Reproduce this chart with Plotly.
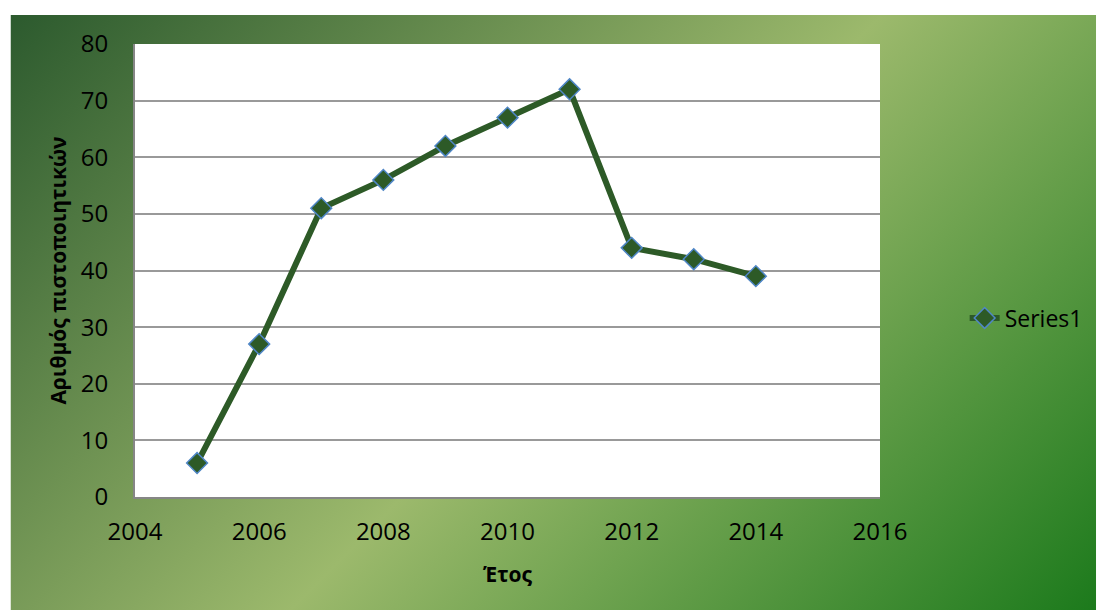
import base64
import plotly.graph_objects as go

# Data
years = [2005, 2006, 2007, 2008, 2009, 2010, 2011, 2012, 2013, 2014]
certificates = [6, 27, 51, 56, 62, 67, 72, 44, 42, 39]
series_name = "Series1"
x_title = "Έτος"
y_title = "Αριθμός πιστοποιητικών"
x_ticks = [2004, 2006, 2008, 2010, 2012, 2014, 2016]
y_ticks = [0, 10, 20, 30, 40, 50, 60, 70, 80]

FONT = "Open Sans, Lato, DejaVu Sans, sans-serif"

# Gradient background (diagonal, dark green -> light green -> green)
svg = (
    '<svg xmlns="http://www.w3.org/2000/svg" width="1090" height="595" viewBox="0 0 1090 595" preserveAspectRatio="none">'
    '<defs><linearGradient id="g" gradientUnits="userSpaceOnUse" x1="0" y1="0" x2="842" y2="842">'
    '<stop offset="0" stop-color="#2c5a2e"/>'
    '<stop offset="0.52" stop-color="#9cb96c"/>'
    '<stop offset="1" stop-color="#1c7a1c"/>'
    '</linearGradient></defs>'
    '<rect x="0" y="0" width="1090" height="595" fill="url(#g)"/></svg>'
)
bg_uri = "data:image/svg+xml;base64," + base64.b64encode(svg.encode()).decode()

fig = go.Figure()
fig.add_trace(go.Scatter(
    x=years, y=certificates, name=series_name, mode="lines+markers",
    line=dict(color="#2d5a27", width=6),
    marker=dict(symbol="diamond", size=16, color="#2d5a27",
                line=dict(color="#4f86c6", width=1.5)),
))

L, T, R, B = 135, 44, 883, 497
pw, ph = R - L, B - T

fig.update_layout(
    width=1100, height=610,
    margin=dict(l=L, r=1100 - R, t=T, b=610 - B),
    paper_bgcolor="white",
    plot_bgcolor="white",
    font=dict(family=FONT, size=24, color="black"),
    showlegend=True,
    legend=dict(x=(968 - L) / pw, y=1 - (318 - T) / ph, xanchor="left", yanchor="middle",
                bgcolor="rgba(0,0,0,0)", font=dict(size=23, color="black")),
    images=[dict(source=bg_uri, xref="paper", yref="paper",
                 x=(10 - L) / pw, y=1 + (T - 15) / ph,
                 sizex=1090 / pw, sizey=595 / ph,
                 xanchor="left", yanchor="top", sizing="stretch", layer="below")],
    shapes=[dict(type="rect", xref="paper", yref="paper", x0=0, x1=1, y0=0, y1=1,
                 fillcolor="white", line=dict(width=0), layer="below")],
)

fig.update_xaxes(
    range=[2004, 2016], tickvals=x_ticks, ticktext=[str(v) for v in x_ticks],
    showgrid=False, zeroline=False, showline=True, linecolor="#868686", linewidth=2,
    ticks="", tickfont=dict(size=24), ticklabelstandoff=12,
    title=dict(text="<b>" + x_title + "</b>", font=dict(size=21), standoff=22),
)
fig.update_yaxes(
    range=[0, 80], tickvals=y_ticks,
    showgrid=True, gridcolor="#999999", gridwidth=1.5, zeroline=False,
    showline=True, linecolor="#868686", linewidth=2,
    ticks="", tickfont=dict(size=24), ticklabelstandoff=20,
    title=dict(text="<b>" + y_title + "</b>", font=dict(size=21), standoff=8),
)

fig.write_html("out.html")
